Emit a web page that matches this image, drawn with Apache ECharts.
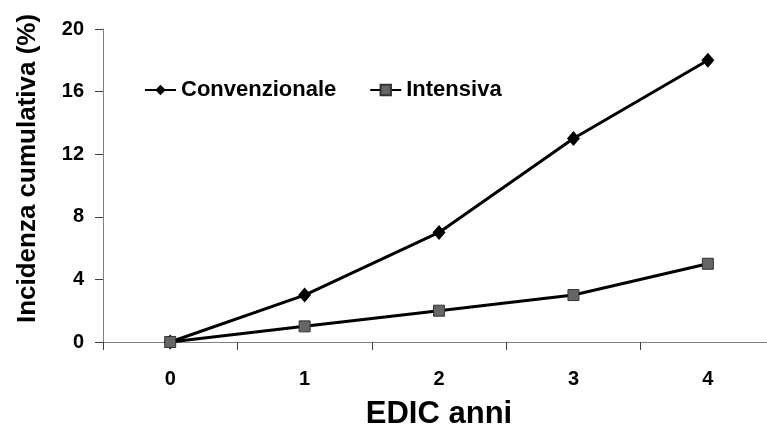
<!DOCTYPE html>
<html>
<head>
<meta charset="utf-8">
<script src="https://cdn.jsdelivr.net/npm/echarts@6/dist/echarts.min.js"></script>
<style>
  html, body { margin: 0; padding: 0; background: #fff; }
  #chart { width: 767px; height: 435px; }
</style>
</head>
<body>
<div id="chart"></div>
<script>
// Years of EDIC follow-up
const anni = [0, 1, 2, 3, 4];
// Cumulative incidence (%) per treatment group
const convenzionale = [0, 3, 7, 13, 18];
const intensiva = [0, 1, 2, 3, 5];
// Value axis ticks
const yMin = 0, yMax = 20, yStep = 4;
// Tick marks sit between the years
const xTicks = [-0.5, 0.5, 1.5, 2.5, 3.5];

const FONT = '"Liberation Sans", Arial, sans-serif';

const toPairs = vals => anni.map((a, i) => [a, vals[i]]);

const chart = echarts.init(document.getElementById('chart'));
chart.setOption({
  animation: false,
  backgroundColor: '#ffffff',
  grid: { left: 103, right: 0, top: 29, bottom: 88.5, containLabel: false },
  legend: {
    left: 144,
    top: 79,
    padding: 0,
    itemWidth: 31,
    itemHeight: 13,
    itemGap: 33,
    textStyle: { fontFamily: FONT, fontWeight: 'bold', fontSize: 22, color: '#000' },
    data: ['Convenzionale', 'Intensiva']
  },
  xAxis: {
    type: 'value',
    // each year occupies one unit; the last unit runs slightly off the right edge
    min: -0.5,
    max: 4.44,
    name: 'EDIC anni',
    nameLocation: 'middle',
    nameGap: 57,
    nameTextStyle: { fontFamily: FONT, fontWeight: 'bold', fontSize: 31, color: '#000', padding: [0, 0, 0, 8] },
    axisLine: { onZero: false, lineStyle: { color: '#808080', width: 1 } },
    axisTick: { show: true, inside: false, length: 8, customValues: xTicks, lineStyle: { color: '#404040' } },
    axisLabel: {
      margin: 27, fontFamily: FONT, fontWeight: 'bold', fontSize: 20, color: '#000',
      customValues: anni, showMinLabel: true, showMaxLabel: true
    },
    splitLine: { show: false }
  },
  yAxis: {
    type: 'value',
    min: yMin,
    max: yMax,
    interval: yStep,
    name: 'Incidenza cumulativa (%)',
    nameLocation: 'middle',
    nameGap: 62,
    nameRotate: 90,
    nameTextStyle: { fontFamily: FONT, fontWeight: 'bold', fontSize: 26, color: '#000', padding: [0, 0, 0, 34] },
    axisLine: { show: true, onZero: false, lineStyle: { color: '#808080', width: 1 } },
    axisTick: { show: true, length: 8, lineStyle: { color: '#404040' } },
    axisLabel: { margin: 19, fontFamily: FONT, fontWeight: 'bold', fontSize: 20, color: '#000' },
    splitLine: { show: false }
  },
  series: [
    {
      name: 'Convenzionale',
      type: 'line',
      data: toPairs(convenzionale),
      symbol: 'diamond',
      symbolSize: [13, 15],
      lineStyle: { color: '#000', width: 3 },
      itemStyle: { color: '#000', borderColor: '#000', borderWidth: 0 },
      z: 3
    },
    {
      name: 'Intensiva',
      type: 'line',
      data: toPairs(intensiva),
      symbol: 'rect',
      symbolSize: 11,
      lineStyle: { color: '#000', width: 3 },
      itemStyle: { color: '#666666', borderColor: '#333333', borderWidth: 1 },
      z: 4
    }
  ]
});
</script>
</body>
</html>
